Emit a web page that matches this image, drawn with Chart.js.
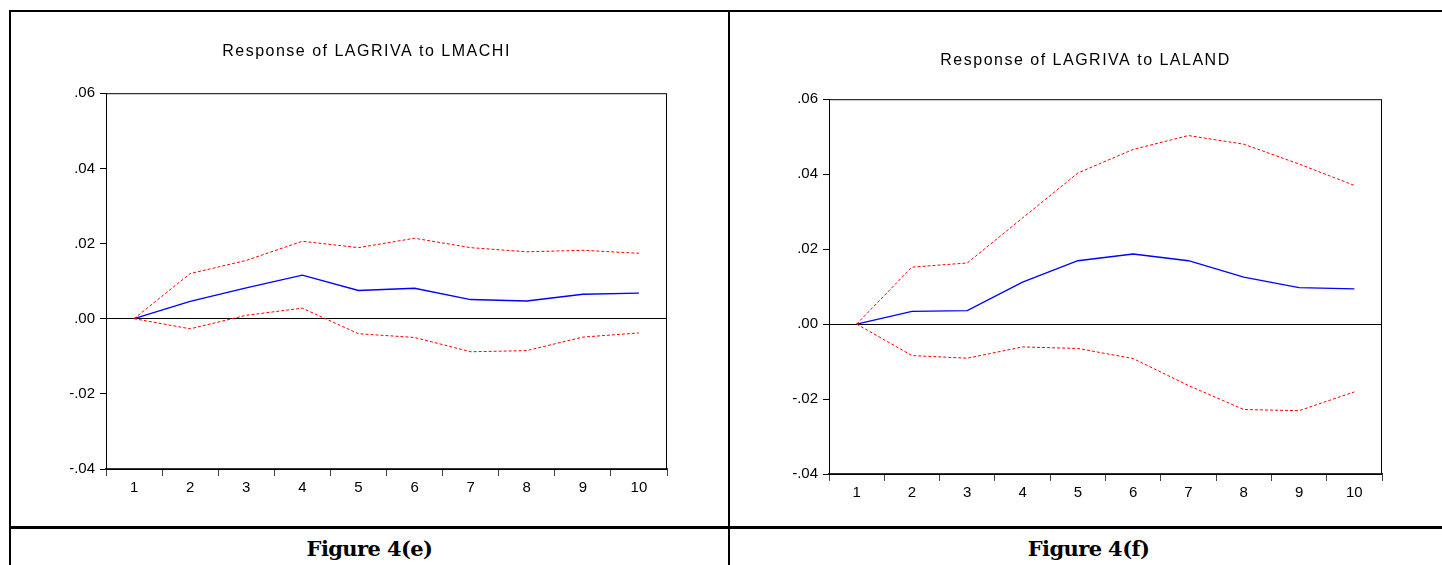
<!DOCTYPE html>
<html>
<head>
<meta charset="utf-8">
<script src="https://cdn.jsdelivr.net/npm/chart.js@4"></script>
<style>
  html, body { margin:0; padding:0; background:#fff; width:1442px; height:565px; overflow:hidden; position:relative; }
  .ln { position:absolute; background:#000; }
  canvas { position:absolute; }
  .cap { position:absolute; top:532px; height:34px; line-height:34px; text-align:center;
         font-family:"DejaVu Serif", serif; font-weight:bold; font-size:21px; letter-spacing:-0.6px; color:#000; }
</style>
</head>
<body>
<div class="ln" style="left:9px;top:10px;width:1450px;height:2px;"></div>
<div class="ln" style="left:9px;top:10px;width:2px;height:560px;"></div>
<div class="ln" style="left:728px;top:10px;width:2px;height:560px;"></div>
<div class="ln" style="left:9px;top:526px;width:1450px;height:3px;"></div>
<canvas id="c1" width="717" height="514" style="left:11px;top:12px;"></canvas>
<canvas id="c2" width="712" height="514" style="left:730px;top:12px;"></canvas>
<div class="cap" style="left:11px;width:717px;">Figure 4(e)</div>
<div class="cap" style="left:730px;width:717px;">Figure 4(f)</div>
<script>
// ---- data ----
const periods = ['1','2','3','4','5','6','7','8','9','10'];
const yTickLabels = ['-.04','-.02','.00','.02','.04','.06'];

const titleE = 'Response of LAGRIVA to LMACHI';
const respE  = [0, 0.0046, 0.0082, 0.0116, 0.0075, 0.0081, 0.0051, 0.0047, 0.0065, 0.0068];
const upperE = [0, 0.0120, 0.0155, 0.0206, 0.0189, 0.0214, 0.0189, 0.0178, 0.0182, 0.0174];
const lowerE = [0, -0.0027, 0.0009, 0.0028, -0.0040, -0.0050, -0.0088, -0.0085, -0.0049, -0.0038];

const titleF = 'Response of LAGRIVA to LALAND';
const respF  = [0, 0.0034, 0.0036, 0.0112, 0.0169, 0.0187, 0.0169, 0.0125, 0.0097, 0.0094];
const upperF = [0, 0.0152, 0.0163, 0.0283, 0.0403, 0.0466, 0.0503, 0.0480, 0.0427, 0.0370];
const lowerF = [0, -0.0084, -0.0091, -0.0061, -0.0065, -0.0092, -0.0164, -0.0228, -0.0231, -0.0181];

// ---- setup ----
Chart.defaults.font.family = '"Liberation Sans", Arial, sans-serif';
Chart.defaults.font.size = 15;
Chart.defaults.color = '#000';

const framePlugin = {
  id: 'frame',
  afterInit(chart) {
    const t = chart.titleBlock;
    if (t) {
      const orig = t.draw;
      t.draw = function() {
        const ctx = this.ctx;
        const prev = ctx.letterSpacing;
        ctx.letterSpacing = '1.5px';
        orig.apply(this, arguments);
        ctx.letterSpacing = prev || '0px';
      };
    }
  },
  afterDraw(chart) {
    const a = chart.chartArea, ctx = chart.ctx;
    ctx.save();
    ctx.strokeStyle = '#000';
    ctx.lineWidth = 1;
    ctx.strokeRect(a.left + 0.5, a.top + 0.5, a.right - a.left - 1, a.bottom - a.top);
    ctx.restore();
  }
};

function makeChart(id, title, resp, upper, lower, lay) {
  return new Chart(document.getElementById(id), {
    type: 'line',
    data: {
      labels: periods,
      datasets: [
        { data: upper, borderColor: '#ff0000', borderWidth: 1, borderDash: [3, 2], pointRadius: 0, tension: 0, fill: false },
        { data: lower, borderColor: '#ff0000', borderWidth: 1, borderDash: [3, 2], pointRadius: 0, tension: 0, fill: false },
        { data: resp,  borderColor: '#0000ff', borderWidth: 1.3, pointRadius: 0, tension: 0, fill: false }
      ]
    },
    options: {
      responsive: false,
      animation: false,
      devicePixelRatio: 1,
      layout: { padding: { left: lay.padLeft, right: lay.padRight, top: 0, bottom: lay.padBottom } },
      plugins: {
        legend: { display: false },
        tooltip: { enabled: false },
        title: {
          display: true, text: title, color: '#000',
          font: { size: 16, weight: 'normal' },
          padding: { top: lay.titleTop, bottom: lay.titleBottom }
        }
      },
      scales: {
        x: {
          type: 'category',
          offset: true,
          grid: { offset: true, drawOnChartArea: false, drawTicks: true, tickLength: 7, color: '#000', tickColor: '#444' },
          border: { display: true, color: '#333', width: 2 },
          ticks: { padding: 3, maxRotation: 0, autoSkip: false, color: '#000', font: { size: 15 } },
          afterFit(s) { s.height = 30; }
        },
        y: {
          min: -0.04, max: 0.06,
          grid: {
            drawTicks: true, tickLength: 6,
            color: (c) => (c.tick && Math.abs(c.tick.value) < 1e-9) ? '#000' : 'rgba(0,0,0,0)',
            tickColor: '#000', lineWidth: 1
          },
          border: { display: true, color: '#000', width: 1 },
          ticks: { stepSize: 0.02, padding: 5, color: '#000', font: { size: 15 }, callback: (v, i) => yTickLabels[i] },
          afterFit(s) { s.width = 40; }
        }
      }
    },
    plugins: [framePlugin]
  });
}

makeChart('c1', titleE, respE, upperE, lowerE, { padLeft: 55, padRight: 61, padBottom: 27, titleTop: 30, titleBottom: 32 });
makeChart('c2', titleF, respF, upperF, lowerF, { padLeft: 59, padRight: 60, padBottom: 22, titleTop: 39, titleBottom: 29 });
</script>
</body>
</html>
